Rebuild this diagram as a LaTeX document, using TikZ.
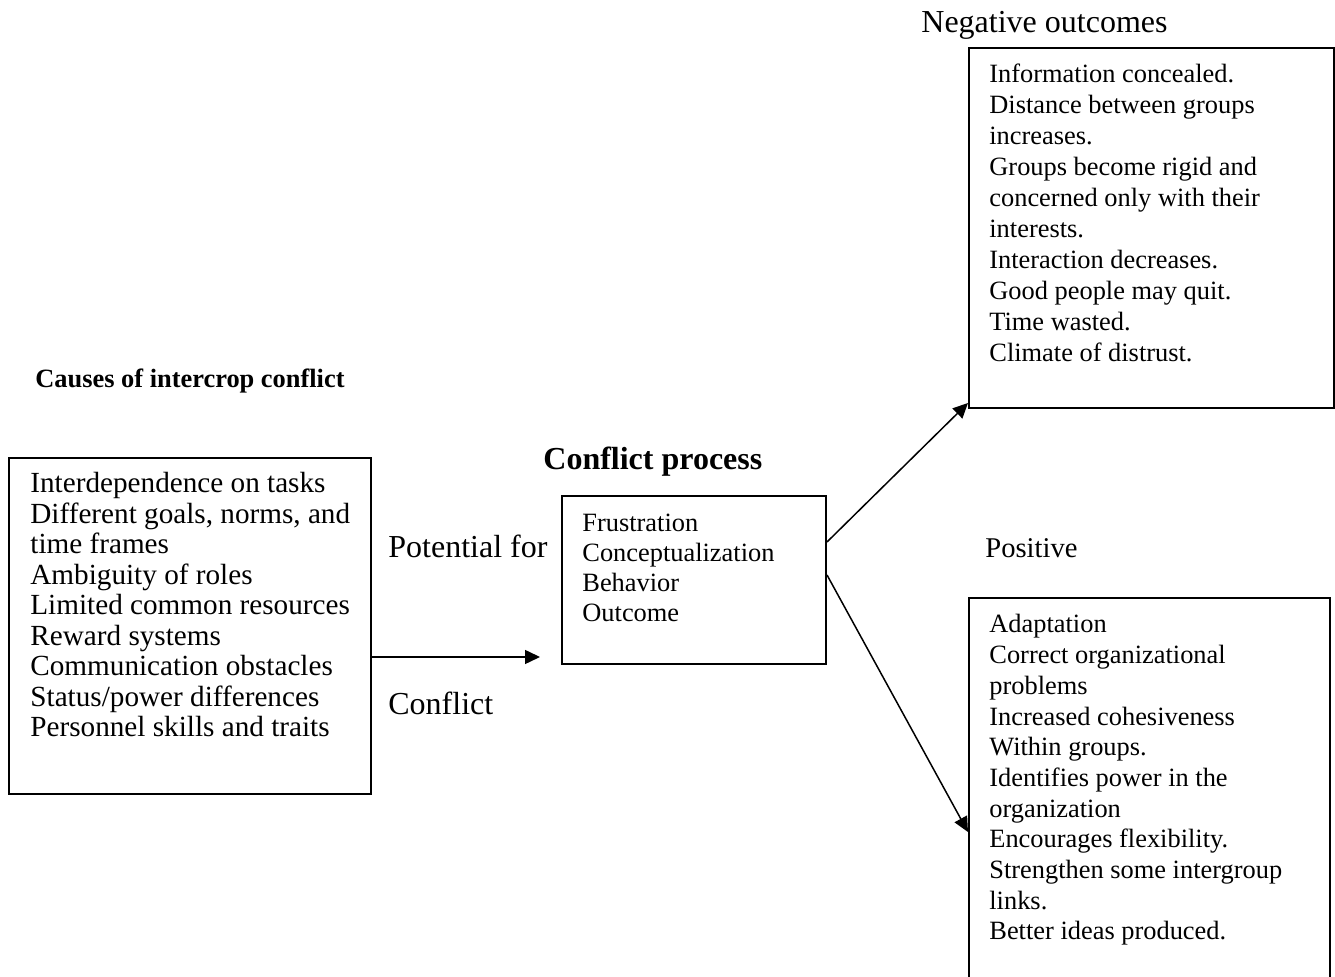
\documentclass[tikz,border=0pt]{standalone}
\usepackage{fontspec}
\setmainfont{Liberation Serif}
\usetikzlibrary{arrows.meta,positioning}

\begin{document}
\begin{tikzpicture}[x=0.5pt,y=-0.5pt,
  frame/.style={draw,line width=1pt,inner sep=0pt,anchor=north west},
  list/.style={anchor=base west,inner sep=0pt,align=left},
  lbl/.style={anchor=base west,inner sep=0pt},
  arr/.style={-{Triangle[length=7.5pt,width=7pt]},line width=0.75pt}
]
\useasboundingbox (0,0) rectangle (1335,977);

\node[frame,minimum width=181pt,minimum height=168pt] (causes) at (8,457) {};
\node[frame,minimum width=132pt,minimum height=84pt] (process) at (561,495) {};
\node[frame,minimum width=182.5pt,minimum height=180pt] (negative) at (968,47) {};
\node[frame,minimum width=180.5pt,minimum height=200pt] (positive) at (968,597) {};

\node[lbl,font=\fontsize{13.2}{15}\selectfont\bfseries] (causeslbl) at (35,388) {Causes of intercrop conflict};
\node[lbl,font=\fontsize{16}{18}\selectfont\bfseries] (processlbl) at (543,470) {Conflict process};
\node[lbl,font=\fontsize{16}{18}\selectfont] (negativelbl) at (921,33) {Negative outcomes};
\node[lbl,font=\fontsize{14.3}{16}\selectfont] (positivelbl) at (985,558) {Positive};
\node[lbl,font=\fontsize{16}{18}\selectfont] (potential) at (388,558) {Potential for};
\node[lbl,font=\fontsize{16}{18}\selectfont] (conflict) at (388,715) {Conflict};

% base of a list node sits on its last line
\node[list,font=\fontsize{14.6}{15.25}\selectfont] (causestxt) at (30,737) {Interdependence on tasks\\
  Different goals, norms, and\\ time frames\\ Ambiguity of roles\\
  Limited common resources\\ Reward systems\\ Communication obstacles\\
  Status/power differences\\ Personnel skills and traits};
\node[list,font=\fontsize{13.2}{15.15}\selectfont] (processtxt) at (582,622) {Frustration\\
  Conceptualization\\ Behavior\\ Outcome};
\node[list,font=\fontsize{13.2}{15.5}\selectfont] (negativetxt) at (989,362) {Information concealed.\\
  Distance between groups\\ increases.\\ Groups become rigid and\\
  concerned only with their\\ interests.\\ Interaction decreases.\\
  Good people may quit.\\ Time wasted.\\ Climate of distrust.};
\node[list,font=\fontsize{13.2}{15.35}\selectfont] (positivetxt) at (989,940) {Adaptation\\
  Correct organizational\\ problems\\ Increased cohesiveness\\
  Within groups.\\ Identifies power in the\\ organization\\
  Encourages flexibility.\\ Strengthen some intergroup\\ links.\\
  Better ideas produced.};

\coordinate (tip) at (540,657);
\draw[arr] (causes.east |- tip) -- (tip);
\draw[arr] ([yshift=-23.5pt]process.north east) -- ([yshift=3pt]negative.south west);
\draw[arr] ([yshift=-40pt]process.north east) -- ([yshift=-117.5pt]positive.north west);
\end{tikzpicture}
\end{document}
